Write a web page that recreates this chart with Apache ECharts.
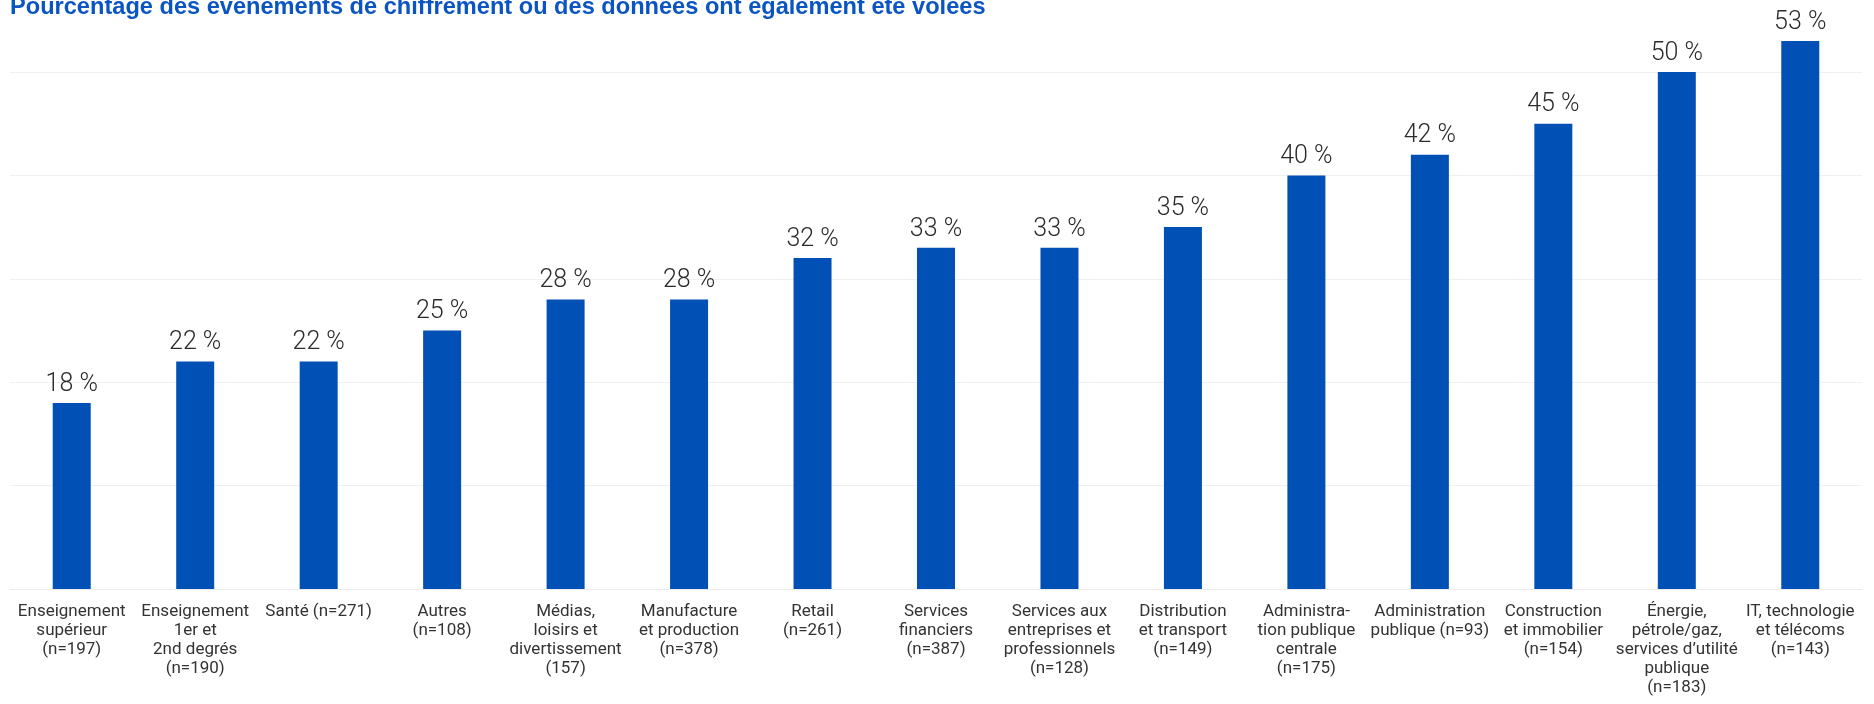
<!DOCTYPE html>
<html>
<head>
<meta charset="utf-8">
<script src="https://cdn.jsdelivr.net/npm/echarts@6/dist/echarts.min.js"></script>
<style>
  html, body { margin: 0; padding: 0; background: #fff; }
  #chart { width: 1874px; height: 704px; }
</style>
</head>
<body>
<div id="chart"></div>
<script>
const titleText = 'Pourcentage des événements de chiffrement où des données ont également été volées';

const sectors = [
  'Enseignement\nsupérieur\n(n=197)',
  'Enseignement\n1er et\n2nd degrés\n(n=190)',
  'Santé (n=271)',
  'Autres\n(n=108)',
  'Médias,\nloisirs et\ndivertissement\n(157)',
  'Manufacture\net production\n(n=378)',
  'Retail\n(n=261)',
  'Services\nfinanciers\n(n=387)',
  'Services aux\nentreprises et\nprofessionnels\n(n=128)',
  'Distribution\net transport\n(n=149)',
  'Administra-\ntion publique\ncentrale\n(n=175)',
  'Administration\npublique (n=93)',
  'Construction\net immobilier\n(n=154)',
  'Énergie,\npétrole/gaz,\nservices d’utilité\npublique\n(n=183)',
  'IT, technologie\net télécoms\n(n=143)'
];

const stolenPct = [18, 22, 22, 25, 28, 28, 32, 33, 33, 35, 40, 42, 45, 50, 53];

const chart = echarts.init(document.getElementById('chart'), null, { renderer: 'canvas' });

chart.setOption({
  animation: false,
  backgroundColor: '#ffffff',
  title: {
    text: titleText,
    left: 10,
    top: -5,
    padding: 0,
    textStyle: {
      fontFamily: 'Liberation Sans',
      fontSize: 23.6,
      fontWeight: 'bold',
      color: '#0a55c2'
    }
  },
  grid: { left: 10, right: 12, top: 72, bottom: 115 },
  xAxis: {
    type: 'category',
    data: sectors,
    axisLine: { lineStyle: { color: '#ebebeb', width: 1 } },
    axisTick: { show: false },
    axisLabel: {
      interval: 0,
      margin: 13,
      fontFamily: 'Roboto',
      fontSize: 17,
      lineHeight: 19,
      color: '#333333',
      align: 'center'
    }
  },
  yAxis: {
    type: 'value',
    min: 0,
    max: 50,
    interval: 10,
    axisLabel: { show: false },
    axisLine: { show: false },
    axisTick: { show: false },
    splitLine: { lineStyle: { color: '#f0f0f0', width: 1 } }
  },
  series: [{
    type: 'bar',
    data: stolenPct,
    barWidth: 38,
    clip: false,
    itemStyle: { color: '#0050b5' },
    label: {
      show: true,
      position: 'top',
      distance: 6,
      formatter: '{c} %',
      fontFamily: 'Roboto',
      fontWeight: 300,
      fontSize: 25,
      color: '#2b2b2b'
    }
  }]
});
</script>
</body>
</html>
